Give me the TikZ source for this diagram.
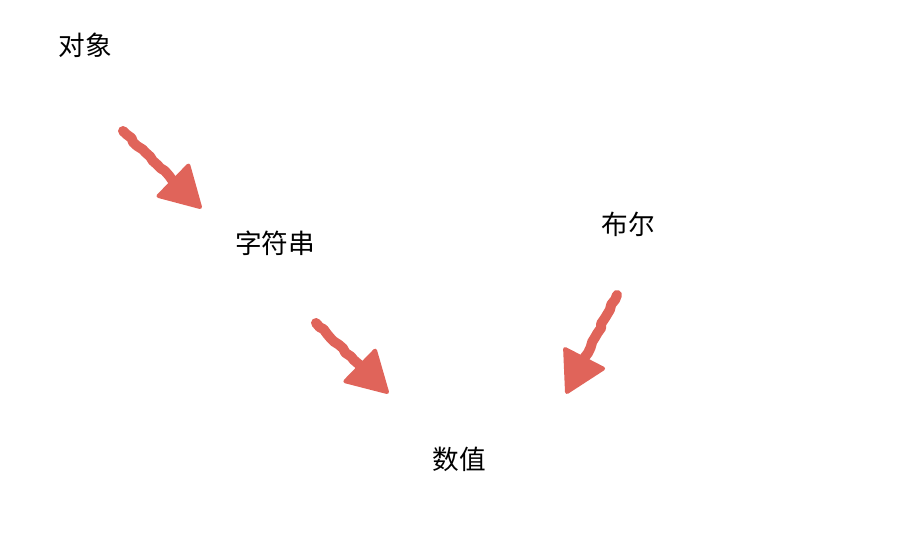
\documentclass[tikz,border=0pt]{standalone}
\usepackage{fontspec}
\newfontfamily\cjk{Noto Sans CJK SC}
\usetikzlibrary{positioning, calc, decorations.pathmorphing}
\definecolor{crayon}{HTML}{E0645A}

% crayon arrow from #1 to #2
\newcommand{\crayonarrow}[2]{%
	\coordinate (hb) at ($(#2)!28pt!(#1)$);
	\draw[shaft] (#1) -- ($(#2)!20pt!(#1)$);
	\fill[crayon, draw=crayon, line width=3pt, line join=round]
		(#2) -- ($(hb)!16pt!90:(#2)$) -- ($(hb)!16pt!-90:(#2)$) -- cycle;}

\begin{document}
\begin{tikzpicture}[x=0.75pt, y=-0.75pt,
	label/.style={font=\cjk\fontsize{20}{24}\selectfont, text=black, inner sep=0pt},
	shaft/.style={draw=crayon, line width=7.5pt, line cap=round, line join=round,
		decoration={random steps, segment length=4pt, amplitude=0.8pt}, decorate}]
\useasboundingbox (0,0) rectangle (900,560);

% Nodes
\node[label] (obj) at (85,45) {对象};
\node[label] (str) at (275,243) {字符串};
\node[label] (bool) at (628,224) {布尔};
\node[label] (num) at (459,459) {数值};

% Arrow ends
\coordinate (a1) at (123,131);
\coordinate (b1) at (200,207);
\coordinate (a2) at (316,323);
\coordinate (b2) at (387,392);
\coordinate (a3) at (617,295);
\coordinate (b3) at (567,392);

% Transitions
\crayonarrow{a1}{b1}
\crayonarrow{a2}{b2}
\crayonarrow{a3}{b3}
\end{tikzpicture}
\end{document}
